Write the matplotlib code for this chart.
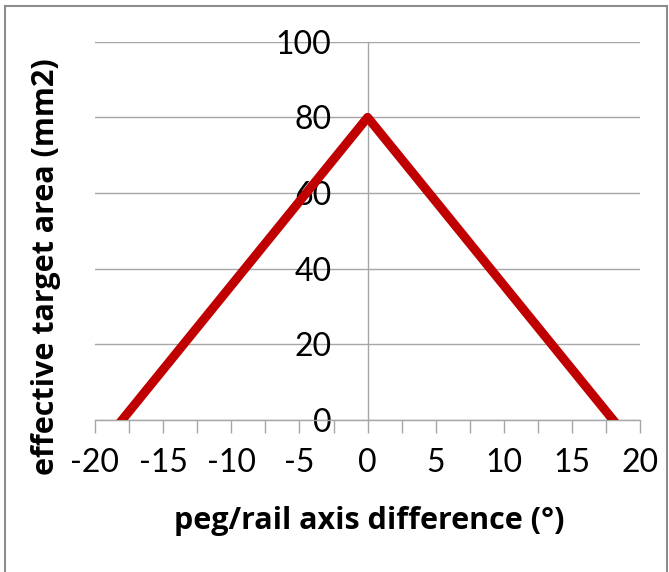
import matplotlib.pyplot as plt
from matplotlib.patches import Rectangle
from matplotlib.ticker import MultipleLocator

# peg/rail axis difference (deg) vs effective target area (mm2)
angle_deg = [-18, 0, 18]
target_area = [0, 80, 0]

x_ticks = [-20, -15, -10, -5, 0, 5, 10, 15, 20]
y_ticks = [0, 20, 40, 60, 80, 100]

plt.rcParams['font.family'] = ['Lato', 'DejaVu Sans']
plt.rcParams['axes.unicode_minus'] = False

fig = plt.figure(figsize=(6.69, 5.72), dpi=100)
ax = fig.add_axes([0.142, 0.266, 0.815, 0.661])

# gray frame round the chart
fig.patches.append(Rectangle((0.007, -0.02), 0.99, 1.01, transform=fig.transFigure,
                             fill=False, edgecolor='#8c8c8c', linewidth=1.5))

# projecting caps get cut flat by the axes at y=0
ax.plot(angle_deg, target_area, color='#c00000', linewidth=6.5,
        solid_joinstyle='round', solid_capstyle='projecting', zorder=3)

ax.set_xlim(-20, 20)
ax.set_ylim(0, 100)
ax.set_xticks(x_ticks)
ax.set_yticks(y_ticks)
ax.xaxis.set_minor_locator(MultipleLocator(2.5))
ax.grid(axis='y', color='#a6a6a6', linewidth=1)
ax.set_axisbelow(True)

# axes cross at the origin, like a spreadsheet chart
for side in ['top', 'right']:
    ax.spines[side].set_visible(False)
ax.spines['left'].set_position(('data', 0))
ax.spines['bottom'].set_position(('data', 0))
for side in ['left', 'bottom']:
    ax.spines[side].set_color('#a6a6a6')
    ax.spines[side].set_linewidth(1)

ax.tick_params(axis='x', which='both', direction='out', length=9,
               color='#a6a6a6', width=1, labelsize=23, pad=11)
ax.tick_params(axis='y', length=0, labelsize=23, pad=26)

label_font = dict(family=['Open Sans', 'DejaVu Sans'], fontsize=22, fontweight='bold')
fig.text(0.552, 0.075, 'peg/rail axis difference (°)', ha='center', va='baseline',
         **label_font)
fig.text(0.091, 0.533, 'effective target area (mm2)', rotation=90,
         ha='right', va='center', **label_font)

fig.savefig('out.png', dpi=100)
